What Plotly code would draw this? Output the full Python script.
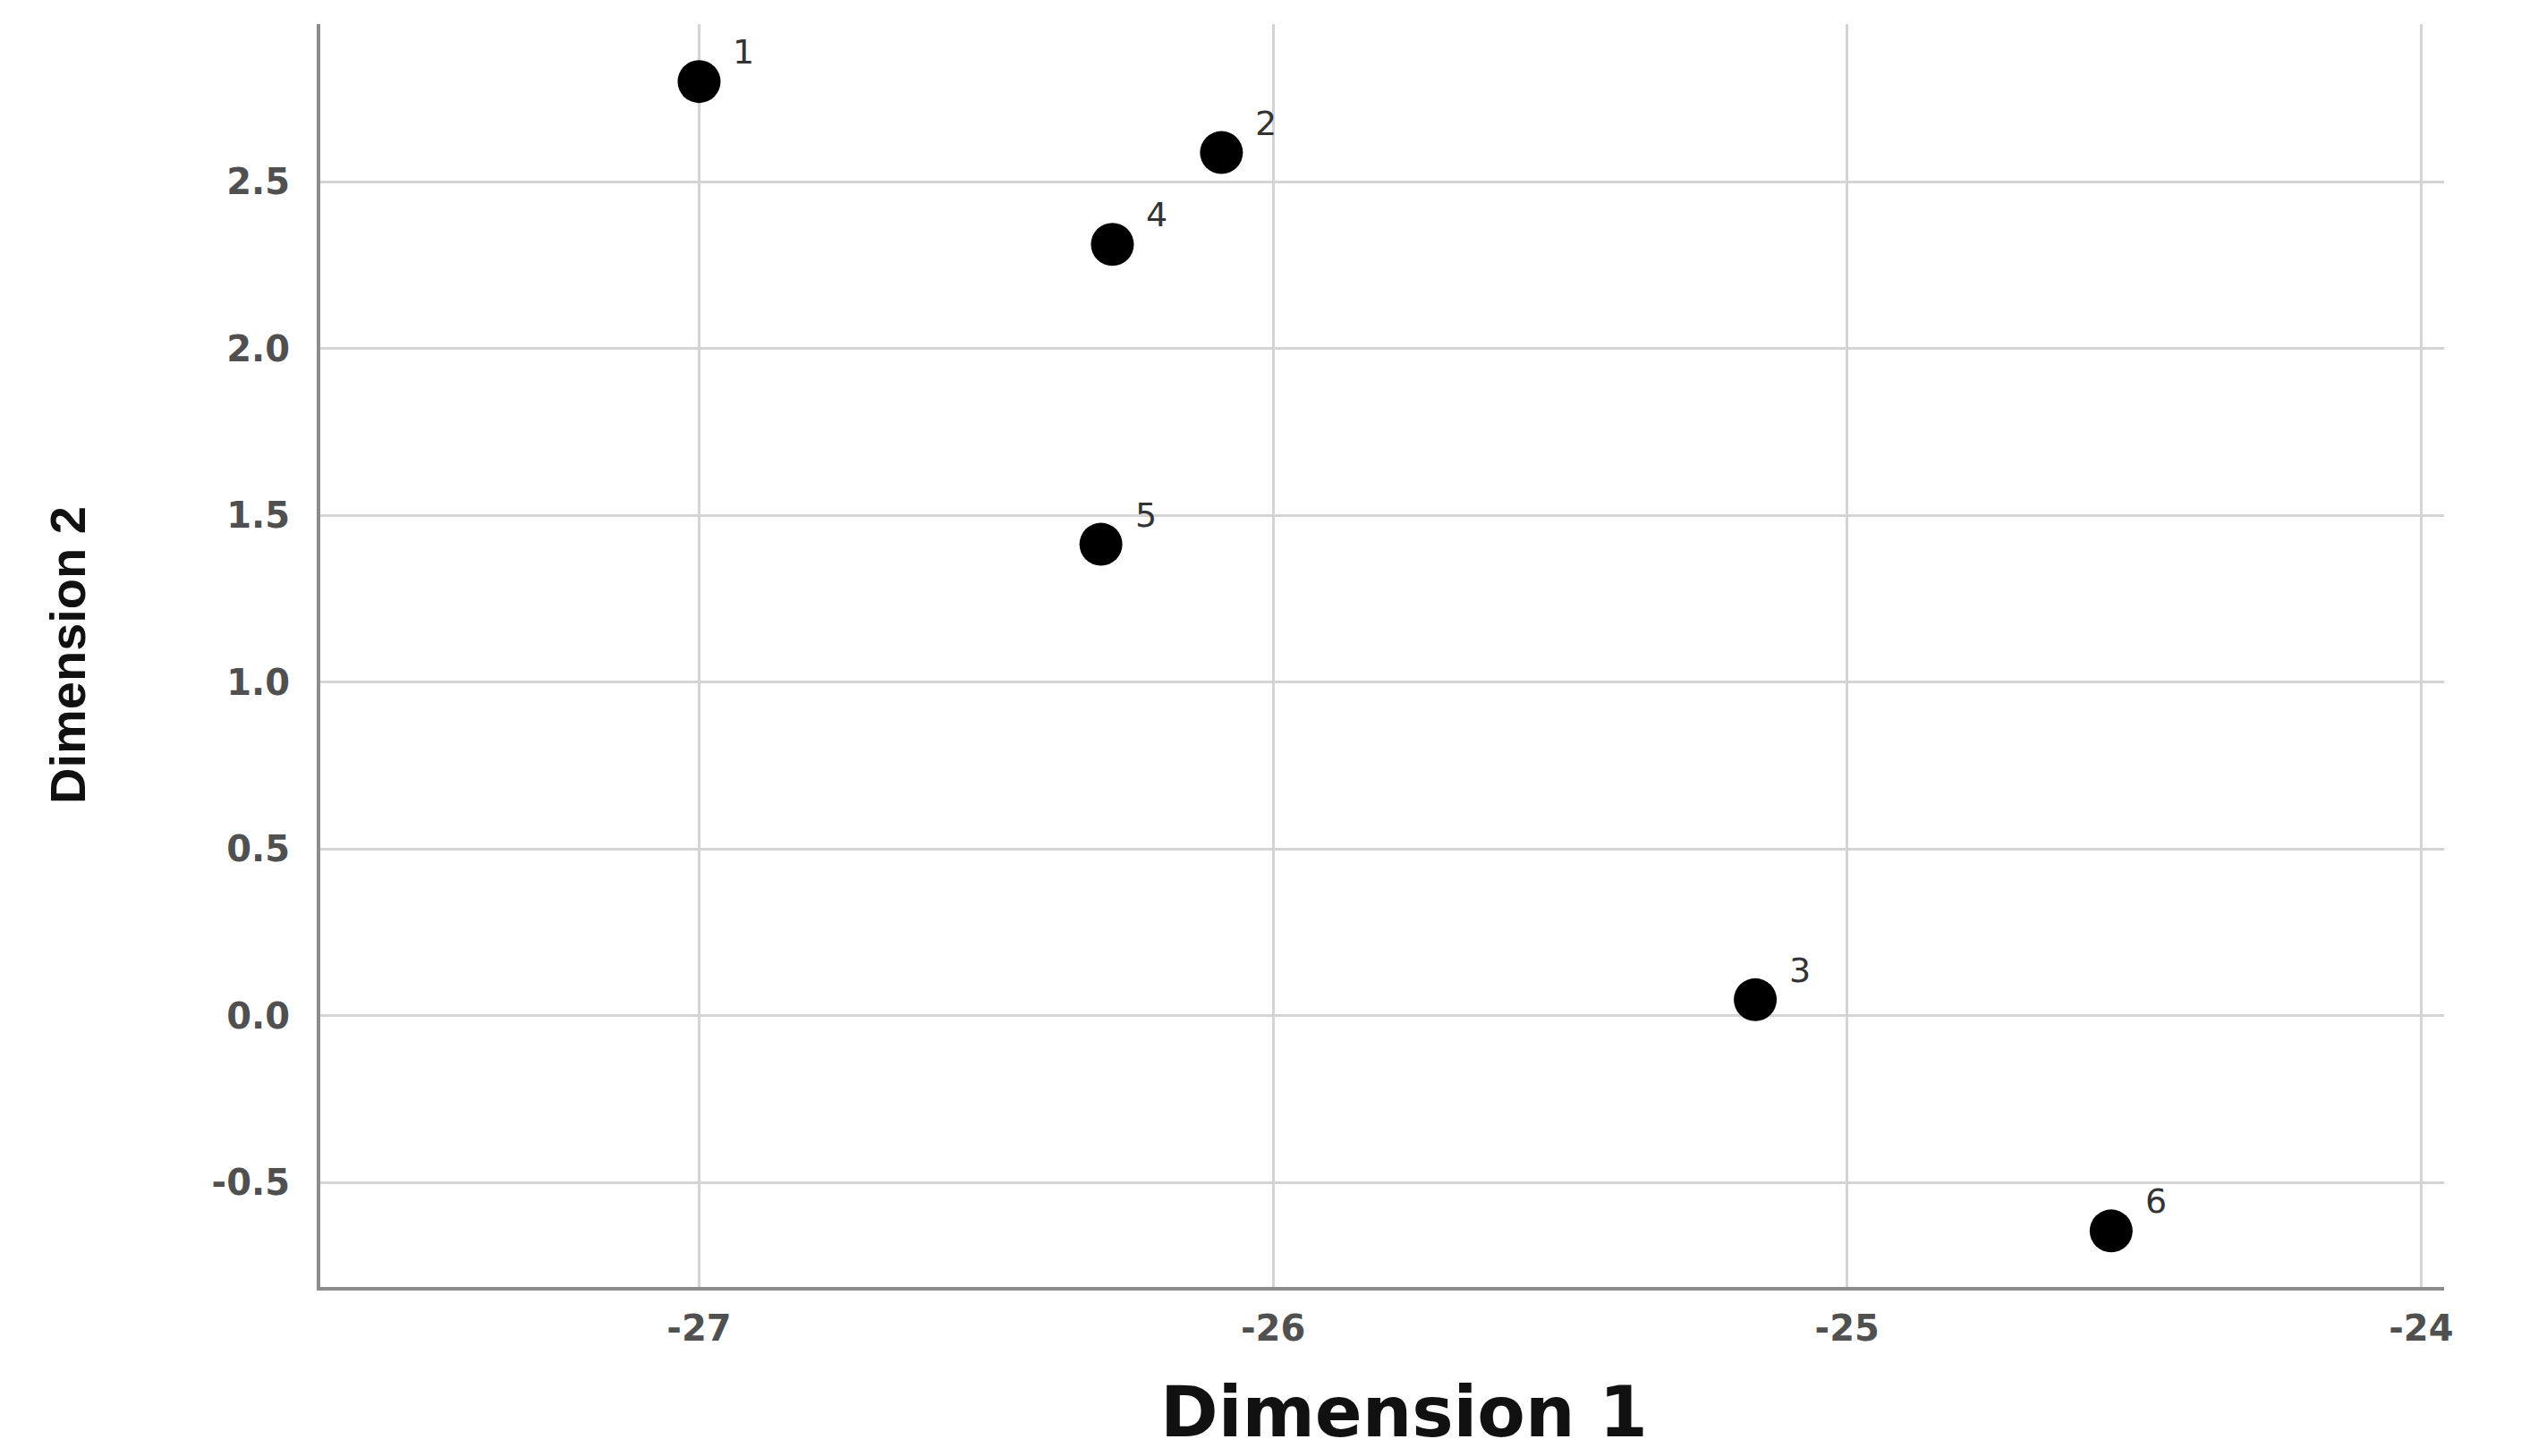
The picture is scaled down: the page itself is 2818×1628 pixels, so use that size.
import plotly.graph_objects as go

labels = ["1", "2", "3", "4", "5", "6"]
dim1 = [-27.00, -26.09, -25.16, -26.28, -26.30, -24.54]
dim2 = [2.80, 2.587, 0.048, 2.312, 1.413, -0.645]

x_ticks = [-27, -26, -25, -24]
y_ticks = [-0.5, 0.0, 0.5, 1.0, 1.5, 2.0, 2.5]

fig = go.Figure()
fig.add_trace(go.Scatter(
    x=dim1, y=dim2,
    mode="markers",
    marker=dict(color="black", size=48, line=dict(width=0)),
    cliponaxis=False,
    showlegend=False,
))

for lx, ly, lt in zip(dim1, dim2, labels):
    fig.add_annotation(
        x=lx, y=ly, text=lt, showarrow=False,
        xshift=50, yshift=33,
        font=dict(family="DejaVu Sans", size=38, color="#333333"),
    )

fig.add_annotation(
    xref="paper", yref="paper", x=0.5, y=0, yanchor="middle",
    yshift=-140, xshift=24, text="Dimension 1", showarrow=False,
    font=dict(family="DejaVu Sans", size=78, color="#111111", weight="bold"),
)
fig.add_annotation(
    xref="paper", yref="paper", x=0, y=0.5, xanchor="center",
    xshift=-283, text="Dimension 2", showarrow=False, textangle=-90,
    font=dict(family="Liberation Sans", size=56, color="#111111", weight="bold"),
)

fig.update_layout(
    width=2810, height=1620,
    margin=dict(l=350, r=86, t=19, b=189),
    paper_bgcolor="white", plot_bgcolor="white",
    font=dict(family="DejaVu Sans", color="#444444"),
)
fig.update_xaxes(
    range=[-27.66, -23.96], automargin=False,
    tickvals=x_ticks, ticktext=[str(v) for v in x_ticks],
    tickfont=dict(family="DejaVu Sans", size=40, color="#505050", weight="bold"),
    showgrid=True, gridcolor="#d4d4d4", gridwidth=3,
    showline=True, linecolor="#8c8c8c", linewidth=4,
    zeroline=False, ticks="", ticklabelstandoff=8,
)
fig.update_yaxes(
    range=[-0.813, 2.972], automargin=False,
    tickvals=y_ticks, ticktext=[f"{v:.1f}" for v in y_ticks],
    tickfont=dict(family="DejaVu Sans", size=40, color="#505050", weight="bold"),
    showgrid=True, gridcolor="#d4d4d4", gridwidth=3,
    showline=True, linecolor="#8c8c8c", linewidth=4,
    zeroline=False, ticks="", ticklabelstandoff=22,
)

fig.write_html("out.html")
